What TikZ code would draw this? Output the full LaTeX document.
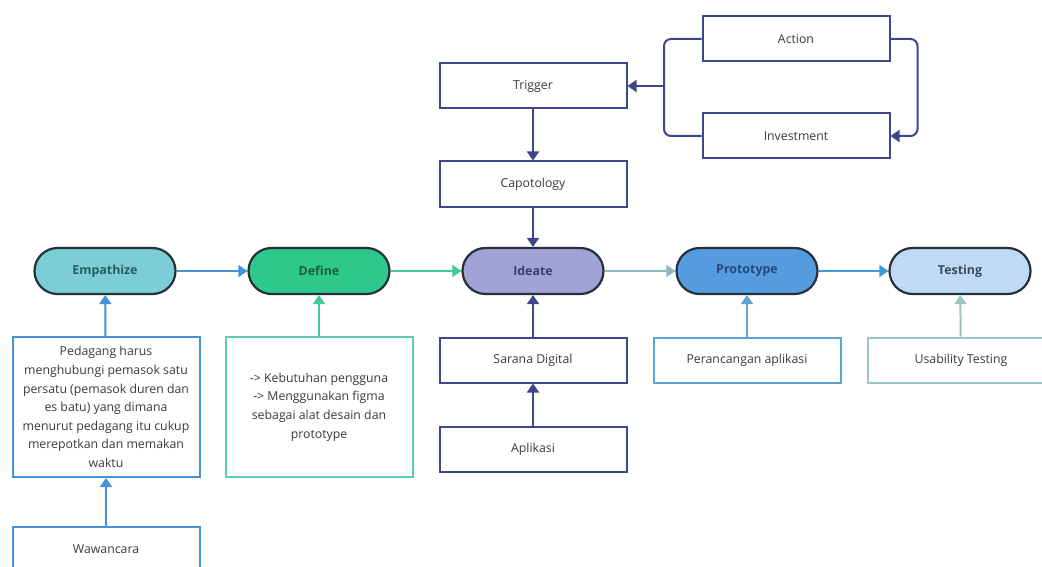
\documentclass[tikz,border=0pt]{standalone}
\usepackage{fontspec}
\setmainfont{Open Sans}
\usetikzlibrary{arrows.meta}
\definecolor{pillborder}{HTML}{26303A}
\definecolor{empfill}{HTML}{7BCED5}
\definecolor{deffill}{HTML}{2DC88C}
\definecolor{ideafill}{HTML}{A0A3D6}
\definecolor{protofill}{HTML}{569CE0}
\definecolor{testfill}{HTML}{BFDAF5}
\definecolor{emptxt}{HTML}{2A5A63}
\definecolor{deftxt}{HTML}{1D5C40}
\definecolor{ideatxt}{HTML}{3B3F6B}
\definecolor{prototxt}{HTML}{27487A}
\definecolor{testtxt}{HTML}{3A4A5C}
\definecolor{navy}{HTML}{3C4889}
\definecolor{cblue}{HTML}{4592D8}
\definecolor{cgreen}{HTML}{45C99A}
\definecolor{cgrayteal}{HTML}{8DB9C2}
\definecolor{cblue2}{HTML}{3C9CDA}
\definecolor{cproto}{HTML}{5FA3D3}
\definecolor{cusab}{HTML}{9CC6C2}
\definecolor{cdefbox}{HTML}{5CCDB0}
\definecolor{txt}{HTML}{3A3A3A}
\tikzset{
  pill/.style={draw=pillborder, line width=2.2pt, rounded corners=23pt,
    minimum width=141pt, minimum height=46pt, inner sep=0pt,
    font=\bfseries\fontsize{12.4}{14}\selectfont},
  box/.style={draw, line width=2pt, minimum width=187pt, minimum height=45pt,
    inner sep=0pt, fill=white, text=txt, align=center,
    font=\fontsize{12.3}{18.6}\selectfont},
  arr/.style={line width=2pt, -{Triangle[length=9pt,width=12pt]}},
}
\begin{document}
\begin{tikzpicture}[x=1pt,y=-1pt]
\useasboundingbox (0,0) rectangle (1042,567);
\clip (0,0) rectangle (1042,567);
\fill[white] (0,0) rectangle (1042,567);
% pills
\node[pill, fill=empfill, text=emptxt] (emp) at (105,271) {Empathize};
\node[pill, fill=deffill, text=deftxt] (def) at (319,271) {Define};
\node[pill, fill=ideafill, text=ideatxt] (idea) at (533,271) {Ideate};
\node[pill, fill=protofill, text=prototxt] (proto) at (747,271) {Prototype};
\node[pill, fill=testfill, text=testtxt] (test) at (960,271) {Testing};
% top boxes
\node[box, draw=navy] (trig) at (533,86) {Trigger};
\node[box, draw=navy] (capo) at (533,184) {Capotology};
\node[box, draw=navy] (act) at (796,39) {Action};
\node[box, draw=navy] (inv) at (796,136) {Investment};
% bottom boxes
\node[box, draw=cblue, minimum height=140pt] (ped) at (106,407) {Pedagang harus\\menghubungi pemasok satu\\persatu (pemasok duren dan\\es batu) yang dimana\\menurut pedagang itu cukup\\merepotkan dan memakan\\waktu};
\node[box, draw=cdefbox, minimum height=140pt] (defbox) at (319,407) {-> Kebutuhan pengguna\\-> Menggunakan figma\\sebagai alat desain dan\\prototype};
\node[box, draw=navy] (sar) at (533,360) {Sarana Digital};
\node[box, draw=navy] (apl) at (533,449) {Aplikasi};
\node[box, draw=cproto] (per) at (747,360) {Perancangan aplikasi};
\node[box, draw=cusab] (usa) at (961,360) {Usability Testing};
\node[box, draw=cblue] (waw) at (106,549) {Wawancara};
% main flow
\draw[arr, cblue] (emp) -- (def);
\draw[arr, cgreen] (def) -- (idea);
\draw[arr, cgrayteal] (idea) -- (proto);
\draw[arr, cblue2] (proto) -- (test);
% vertical connectors
\draw[arr, cblue] (ped) -- (emp);
\draw[arr, cblue] (waw) -- (ped);
\draw[arr, cgreen] (defbox) -- (def);
\draw[arr, navy] (sar) -- (idea);
\draw[arr, navy] (apl) -- (sar);
\draw[arr, cproto] (per) -- (proto);
\draw[arr, cusab] (usa) -- (test);
\draw[arr, navy] (trig) -- (capo);
\draw[arr, navy] (capo) -- (idea);
% action / investment loop
\coordinate (bj) at (664,86);
\draw[navy, line width=2pt, rounded corners=7pt] (act.west) -| (bj) |- (inv.west);
\draw[arr, navy] (bj) -- (trig.east);
\draw[arr, navy, rounded corners=7pt] (act.east) -- ++(27,0) |- (inv.east);
\end{tikzpicture}
\end{document}
